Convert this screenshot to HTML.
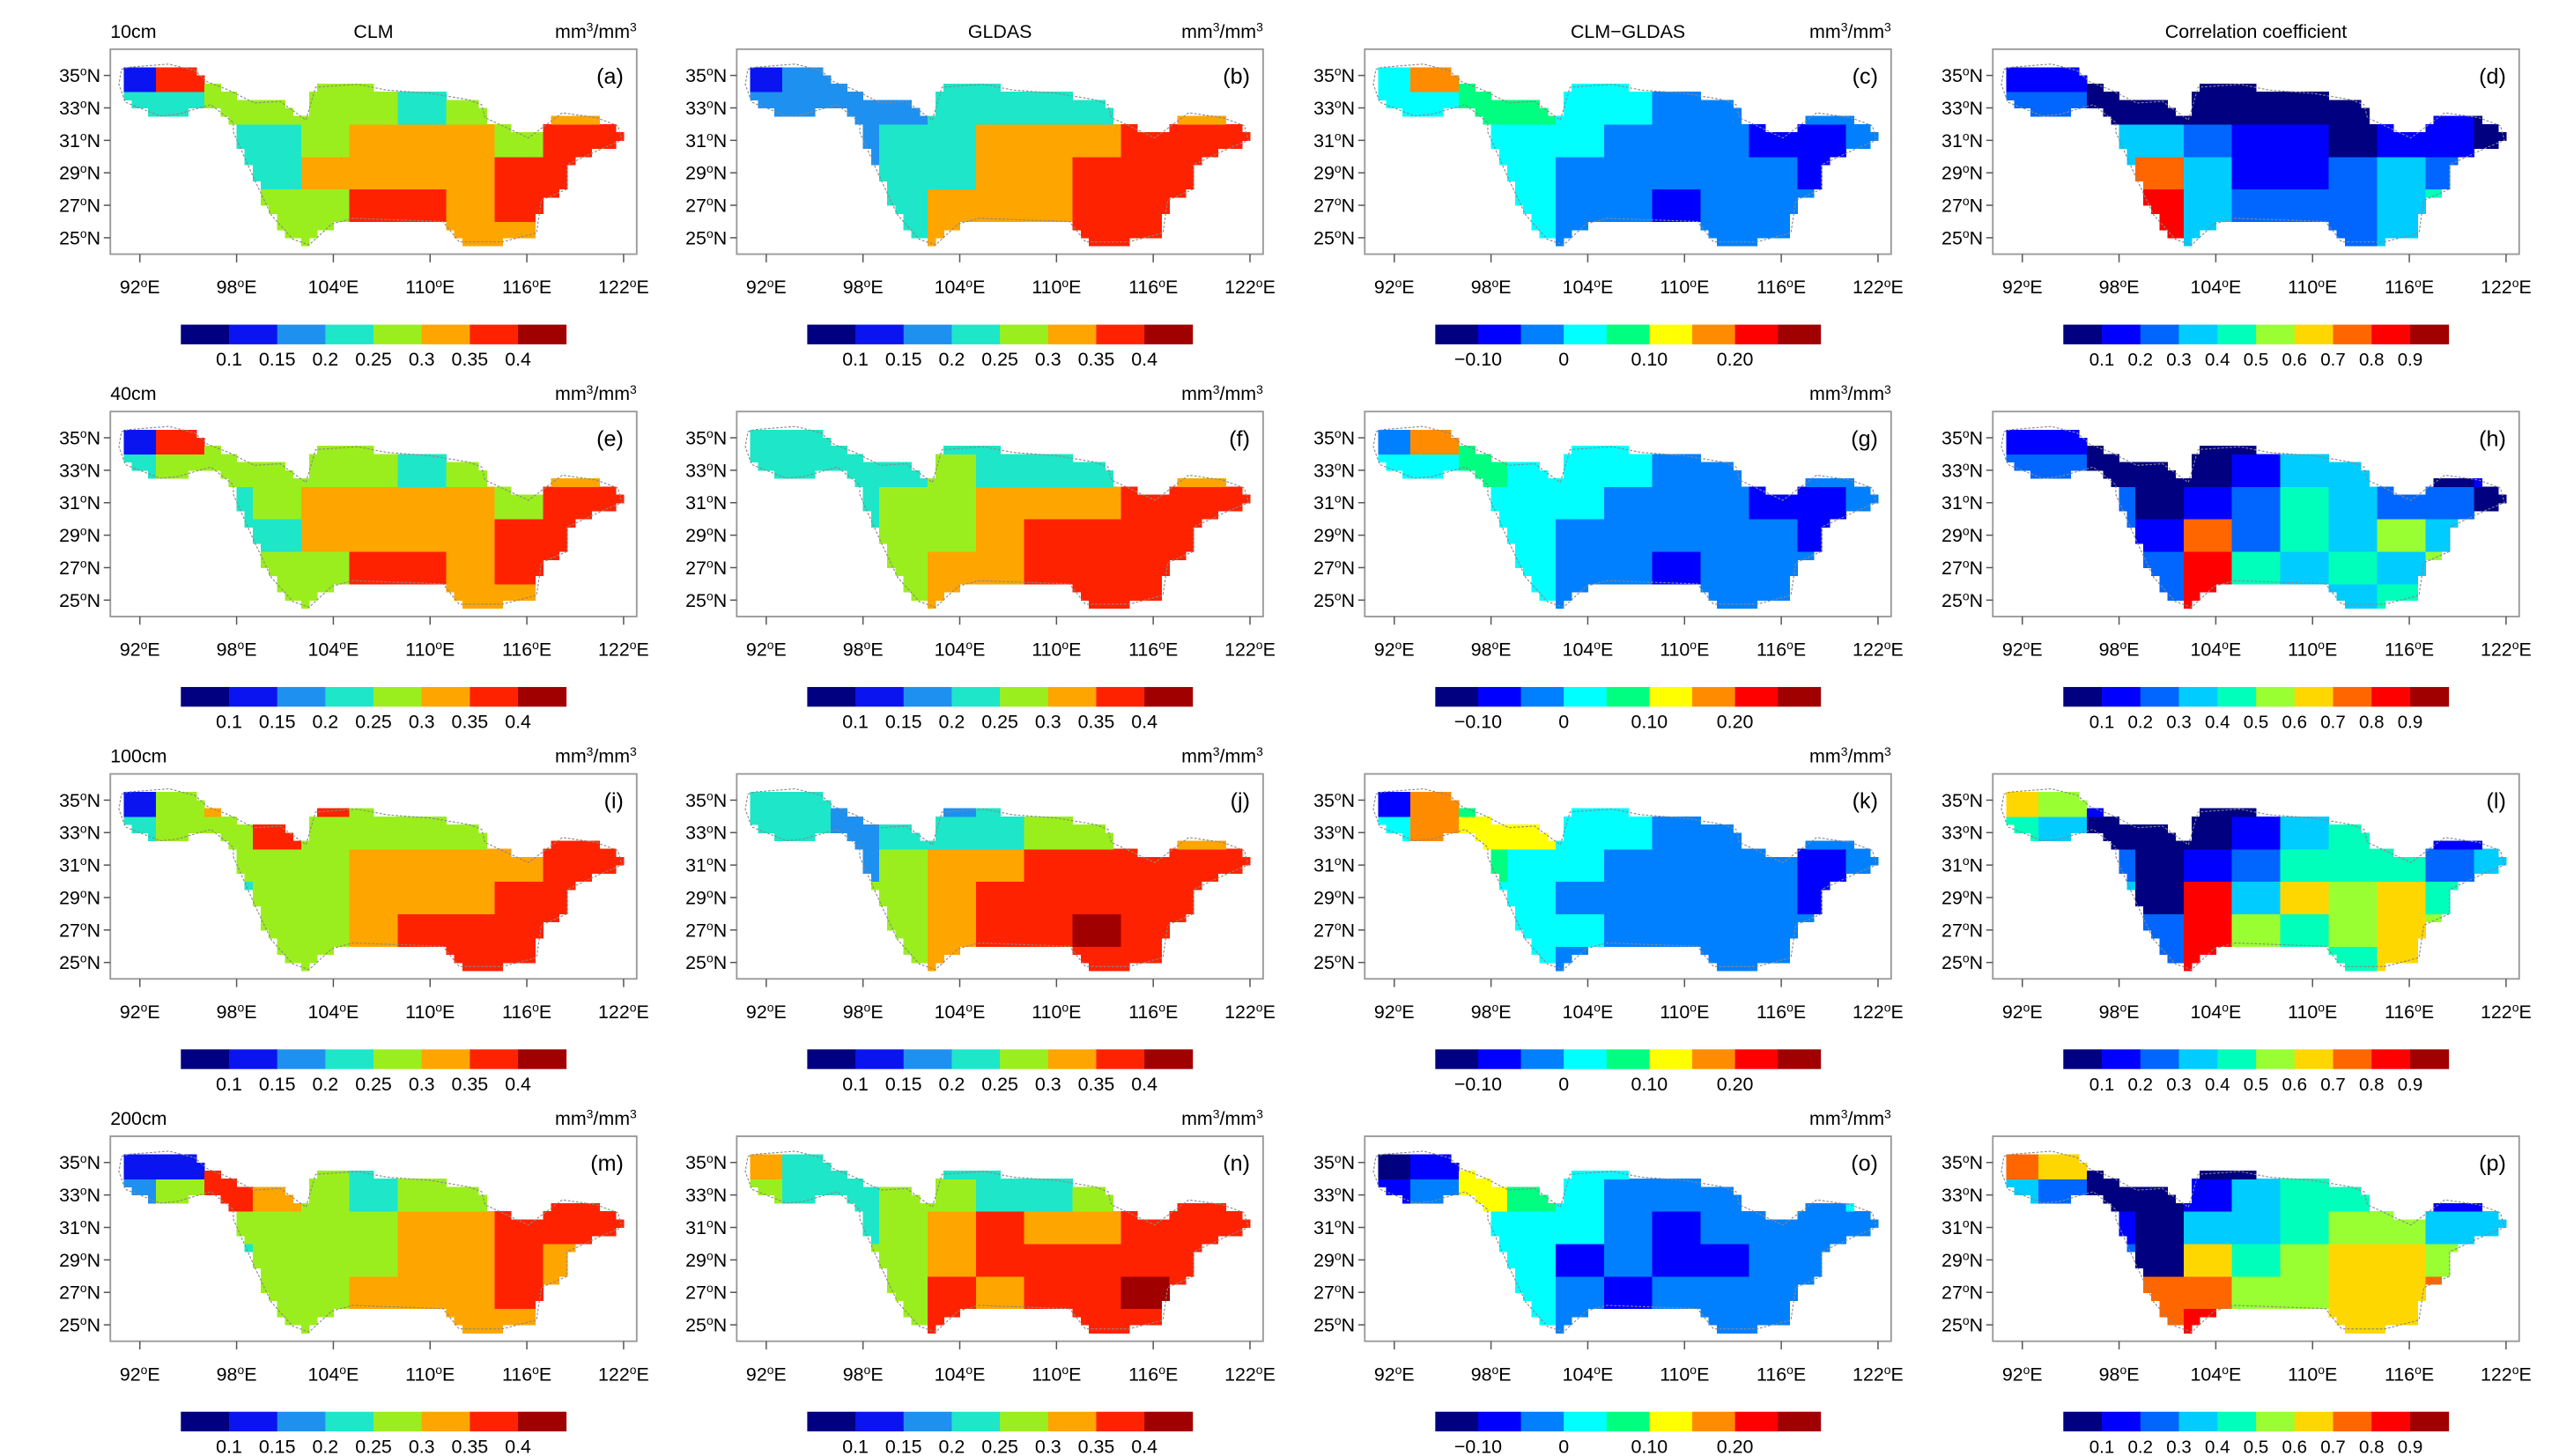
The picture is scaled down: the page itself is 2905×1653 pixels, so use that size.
<!DOCTYPE html>
<html><head><meta charset="utf-8"><style>html,body{margin:0;padding:0;background:#fff}svg{display:block}text{font-family:"Liberation Sans",sans-serif;fill:#000}</style></head>
<body>
<svg id="fig" xmlns="http://www.w3.org/2000/svg" width="2905" height="1653" viewBox="0 0 1560 888"></svg>
<script>
const depths = ["10cm","40cm","100cm","200cm"];
const colTitles = ["CLM","GLDAS","CLM\u2212GLDAS","Correlation coefficient"];
const panelLetters = ["a","b","c","d","e","f","g","h","i","j","k","l","m","n","o","p"];
const lonTicks = [92,98,104,110,116,122];
const latTicks = [35,33,31,29,27,25];
const smLabels = ["0.1","0.15","0.2","0.25","0.3","0.35","0.4"];
const diffLabels = ["\u22120.10","0","0.10","0.20"];
const corrLabels = ["0.1","0.2","0.3","0.4","0.5","0.6","0.7","0.8","0.9"];
const smColors = ["#000080","#0a14f0","#1e90f0","#1ee6c8","#9bee1e","#ffa500","#ff2200","#a00000"];
const diffColors = ["#000080","#0000ff","#0080ff","#00ffff","#00ff80","#ffff00","#ff8c00","#ff0000","#a00000"];
const corrColors = ["#000080","#0000ff","#0066ff","#00ccff","#00ffbb","#99ff33","#ffd700","#ff6600","#ff0000","#a00000"];
// coarse grid: lon bins start 90,93,...,120 (3 deg); lat rows 34-36,32-34,...,24-26
const gridLon0 = 90, gridDLon = 3, gridLatTop = 36, gridDLat = 2;
const gA = ["16444434555","33444434455","33334555466","33335555665","44444665665","44444665565"];
const gB = ["12223333555","22223333455","22233555666","22233556666","33335556666","33335556666"];
const gC = ["36433322222","33443322222","33333222112","33332222211","33332212222","33332212222"];
const gD = ["11000000022","22000000010","22332110110","22373112322","22383222342","22383222342"];
const gE = ["16444434555","34444434455","33345555466","33335555665","44444665665","44444665565"];
const gF = ["33333333555","33334333455","33344555666","33344566666","33445566666","33445566666"];
const gG = ["26433322222","33433322222","33333222112","33332222211","33332212222","33332212222"];
const gH = ["11000002211","22000133201","22201243220","22217243533","22228434353","22228433433"];
const gI = ["14566444555","34464444466","33444555566","33344555665","44444566665","44444566665"];
const gJ = ["33222333555","33233344455","33245566666","33445666666","33345667666","33345666666"];
const gK = ["16453322222","36553322222","33433222212","33332222212","33333222222","33332222222"];
const gL = ["65100013202","43000134411","33201244423","33308365644","33328545654","33328544644"];
const gM = ["11644344444","24654344466","33444455666","33344455655","44444555655","44444555555"];
const gN = ["53333333555","43344334566","43345655666","44445666666","44446566766","44446566666"];
const gO = ["01533333222","12543222223","33333212222","33331211222","33332122222","33332122222"];
const gP = ["76000023322","32001344311","22103345533","22206456655","22277556675","22278556655"];
const grids = [gA,gB,gC,gD,gE,gF,gG,gH,gI,gJ,gK,gL,gM,gN,gO,gP];
const basinLon = [90.86,91.26,93.8,95.4,96.2,97.5,99.1,100.7,102.3,102.9,105.5,107.3,110,112.4,113.2,113.4,116.1,118.2,120.3,121.65,121.9,120.9,118.5,118.5,116.9,116.6,114.5,111.8,110.8,105.2,103.9,102.5,101.5,100.15,99.1,97.8,97.8,96.4,94.3,93.25,91.1,90.7];
const basinLat = [35.37,35.5,35.7,35.3,34.6,34.1,33.3,33.4,32.25,34.27,34.45,34.1,33.9,33.5,33.2,32.4,31.15,32.7,32.4,31.9,31.0,30.6,29.5,28.0,27.3,25.3,24.75,24.75,26.0,26.2,25.85,24.56,24.9,26.4,28.6,31.5,32.1,33.2,32.6,32.5,33.35,34.45];

const NS="http://www.w3.org/2000/svg";
const svg=document.getElementById('fig');
const colX=[67,449,832,1215], rowY=[30,251,472,693], FW=321, FH=125;
function mk(tag,attrs,parent){const e=document.createElementNS(NS,tag);for(const k in attrs)e.setAttribute(k,attrs[k]);(parent||svg).appendChild(e);return e;}
function inPoly(x,y){let c=false;for(let i=0,j=basinLon.length-1;i<basinLon.length;j=i++){const xi=basinLon[i],yi=basinLat[i],xj=basinLon[j],yj=basinLat[j];if(((yi>y)!=(yj>y))&&(x<(xj-xi)*(y-yi)/(yj-yi)+xi))c=!c;}return c;}
function lbl(parent,x,y,main,anchor,size,sup){const t=mk('text',{x:x,y:y,'text-anchor':anchor,'font-size':size},parent);t.textContent=main;return t;}
function degLabel(g,x,y,num,hemi,anchor){const t=mk('text',{x:x,y:y,'text-anchor':anchor,'font-size':11.5},g);const a=mk('tspan',{},t);a.textContent=num;const b=mk('tspan',{dy:-4,'font-size':7.5},t);b.textContent='o';const c=mk('tspan',{dy:4},t);c.textContent=hemi;return t;}
function unitLabel(g,x,y){const t=mk('text',{x:x,y:y,'text-anchor':'end','font-size':11.5},g);const p=[['mm',0,11.5],['3',-4,7.5],['/mm',4,11.5],['3',-4,7.5]];p.forEach(q=>{const s=mk('tspan',{dy:q[1],'font-size':q[2]},t);s.textContent=q[0];});return t;}

for(let r=0;r<4;r++){for(let c=0;c<4;c++){
  const idx=r*4+c, X0=colX[c], Y0=rowY[r];
  const g=mk('g',{});
  
  
  const lx=lon=>X0+18+(lon-92)*295/30, ly=lat=>Y0+16+(35-lat)*9.9;
  const colors=c<2?smColors:(c==2?diffColors:corrColors);
  const grid=grids[idx];
  // cells
  const cells=mk('g',{'shape-rendering':'crispEdges'},g);
  
  
  for(let lat=24.25;lat<36;lat+=0.5){for(let lon=90.25;lon<122.5;lon+=0.5){
    if(!inPoly(lon,lat))continue;
    const gr=Math.min(5,Math.floor((gridLatTop-lat)/gridDLat)), gc=Math.min(10,Math.floor((lon-gridLon0)/gridDLon));
    const v=+grid[gr][gc];
    const rc=mk('rect',{x:lx(lon-0.25),y:ly(lat+0.25),width:295/60+0.3,height:4.95+0.3,fill:colors[v]},cells);
    
    
  }}
  const outline=mk('polygon',{points:basinLon.map((l,i)=>lx(l)+','+ly(basinLat[i])).join(' '),fill:'none',stroke:'#888','stroke-width':0.6,'stroke-dasharray':'1.5,1'},g);
  
  
  const fr=mk('rect',{x:X0,y:Y0,width:FW,height:FH,fill:'none',stroke:'#999','stroke-width':1},g);
  
  
  latTicks.forEach(lat=>{mk('line',{x1:X0-4,x2:X0,y1:ly(lat),y2:ly(lat),stroke:'#555','stroke-width':0.8},g);
    const t=degLabel(g,X0-6,ly(lat)+4,String(lat),'N','end');
    
    });
  lonTicks.forEach(lon=>{mk('line',{x1:lx(lon),x2:lx(lon),y1:Y0+FH,y2:Y0+FH+5,stroke:'#555','stroke-width':0.8},g);
    const t=degLabel(g,lx(lon),Y0+149,String(lon),'E','middle');
    
    });
  const pl=lbl(g,X0+FW-8,Y0+21,'('+panelLetters[idx]+')','end',13.5);
  
  
  if(c==0){const d=lbl(g,X0,Y0-7,depths[r],'start',11.5);
    
    }
  if(r==0){const tt=lbl(g,X0+FW/2,Y0-7,colTitles[c],'middle',11.5);
    
    }
  if(c<3){const u=unitLabel(g,X0+FW,Y0-7);
    
    }
  // colorbar
  const cb=mk('g',{},g);
  
  
  const cbx=X0+43, cbw=235, cby=Y0+168, n=colors.length, bw=cbw/n;
  colors.forEach((col,i)=>{const b=mk('rect',{x:cbx+i*bw,y:cby,width:bw+0.2,height:12,fill:col},cb);
    
    });
  const labs=c<2?smLabels:(c==2?diffLabels:corrLabels);
  labs.forEach((s,i)=>{const pos=c==2?(1+2*i):(i+1);
    const t=lbl(cb,cbx+pos*bw,cby+25,s,'middle',c==3?11:11.5);
    
    });
}}
</script>
</body></html>
